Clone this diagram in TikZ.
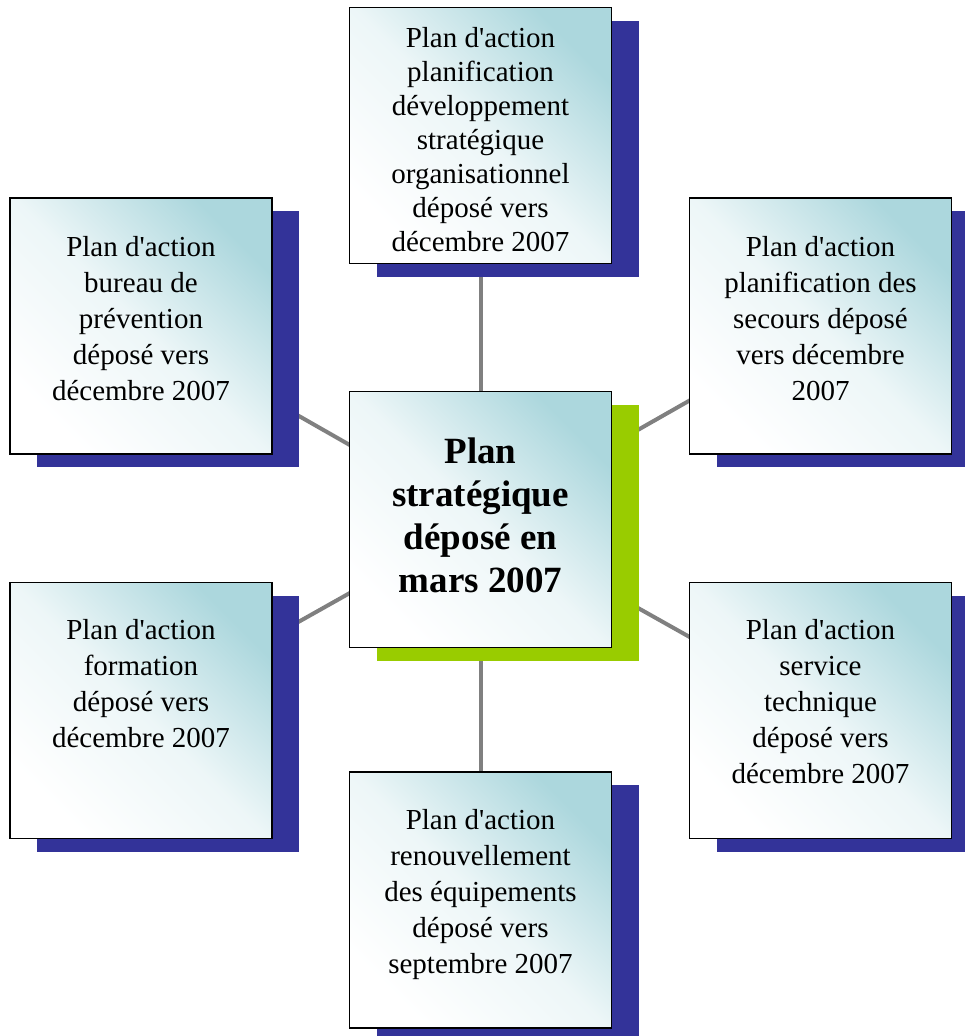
\documentclass[tikz,border=0pt]{standalone}
\usepackage{fontspec}
\setmainfont{Liberation Serif}[Ligatures=TeXOff]
\usetikzlibrary{shadows}
\pgfdeclarelayer{background}
\pgfsetlayers{background,main}
\definecolor{tealc}{RGB}{172,215,221}
\definecolor{shblue}{RGB}{51,51,153}
\definecolor{shgreen}{RGB}{153,204,0}
\definecolor{linkgray}{RGB}{128,128,128}
\newcommand\boxtxt[2]{\parbox[c][256pt][t]{262pt}{\centering\vspace*{#1}#2\par}}
\begin{document}
\begin{tikzpicture}[x=1pt,y=-1pt,
  boxbase/.style={draw=black, line width=1.5pt, minimum width=262pt, minimum height=256pt,
    inner sep=0pt, outer sep=0pt,
    top color=tealc, bottom color=white, middle color=tealc!22!white, shading angle=-45},
  outerbox/.style={boxbase, font=\fontsize{29}{36}\selectfont,
    drop shadow={shadow xshift=27pt, shadow yshift=-13pt, fill=shblue, opacity=1}},
  centerbox/.style={boxbase, font=\fontsize{37}{43}\selectfont\bfseries,
    drop shadow={shadow xshift=27pt, shadow yshift=-13pt, fill=shgreen, opacity=1}},
  link/.style={draw=linkgray, line width=4pt}]
\useasboundingbox (0,0) rectangle (965,1036);

\node[outerbox] (top) at (480.5,135.5) {\boxtxt{20pt}{\fontsize{29}{34}\selectfont Plan d'action\\planification\\développement\\stratégique\\organisationnel\\déposé vers\\décembre 2007}};
\node[outerbox] (lt) at (141,326) {\boxtxt{38pt}{Plan d'action\\bureau de\\prévention\\déposé vers\\décembre 2007}};
\node[outerbox] (rt) at (820.5,326) {\boxtxt{38pt}{Plan d'action\\planification des\\secours déposé\\vers décembre\\2007}};
\node[outerbox] (lb) at (141,710.5) {\boxtxt{37pt}{Plan d'action\\formation\\déposé vers\\décembre 2007}};
\node[outerbox] (rb) at (820.5,710.5) {\boxtxt{37pt}{Plan d'action\\service\\technique\\déposé vers\\décembre 2007}};
\node[outerbox] (bot) at (480.5,900) {\boxtxt{37pt}{Plan d'action\\renouvellement\\des équipements\\déposé vers\\septembre 2007}};
\node[centerbox] (c) at (480.5,519.5) {\boxtxt{46pt}{Plan\\stratégique\\déposé en\\mars 2007}};

\begin{pgfonlayer}{background}
\draw[link] (c.center) -- (top.center);
\draw[link] (c.center) -- (bot.center);
\draw[link] (c.center) -- (lt.center);
\draw[link] (c.center) -- (rt.center);
\draw[link] (c.center) -- (lb.center);
\draw[link] (c.center) -- (rb.center);
\end{pgfonlayer}
\end{tikzpicture}
\end{document}
